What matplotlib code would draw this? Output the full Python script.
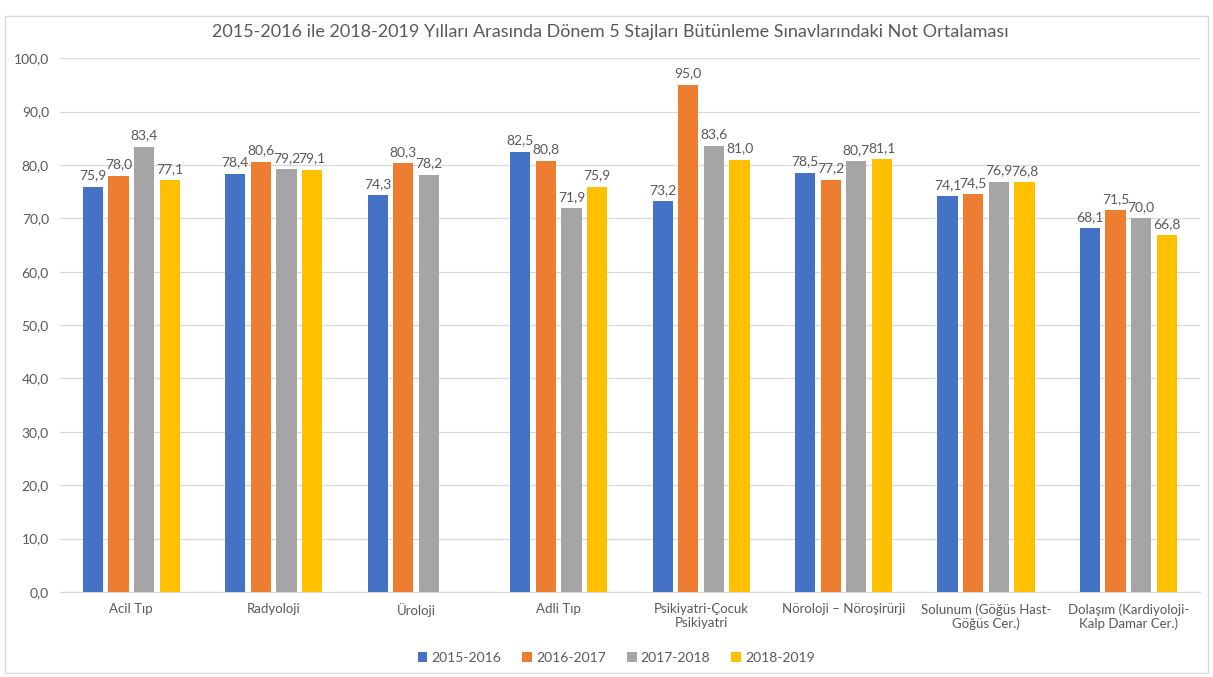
import numpy as np
import matplotlib
matplotlib.use("Agg")
import matplotlib.pyplot as plt

plt.rcParams['font.family'] = ['Lato', 'DejaVu Sans']

categories = ["Acil Tıp", "Radyoloji", "Üroloji", "Adli Tıp",
              "Psikiyatri-Çocuk\nPsikiyatri", "Nöroloji – Nöroşirürji",
              "Solunum (Göğüs Hast-\nGöğüs Cer.)", "Dolaşım (Kardiyoloji-\nKalp Damar Cer.)"]
series_names = ["2015-2016", "2016-2017", "2017-2018", "2018-2019"]
v_2015 = [75.9, 78.4, 74.3, 82.5, 73.2, 78.5, 74.1, 68.1]
v_2016 = [78.0, 80.6, 80.3, 80.8, 95.0, 77.2, 74.5, 71.5]
v_2017 = [83.4, 79.2, 78.2, 71.9, 83.6, 80.7, 76.9, 70.0]
v_2018 = [77.1, 79.1, np.nan, 75.9, 81.0, 81.1, 76.8, 66.8]
colors = ["#4472C4", "#ED7D31", "#A5A5A5", "#FFC000"]
yticks = np.arange(0, 101, 10)

txt = "#595959"
fig = plt.figure(figsize=(12.13, 6.77), dpi=100)
ax = fig.add_axes([0.0495, 0.1256, 0.9395, 0.7884])

x = np.arange(len(categories))
pitch = 0.18
width = 0.142
for i, (vals, name, c) in enumerate(zip([v_2015, v_2016, v_2017, v_2018], series_names, colors)):
    xs = x + (i - 1.5) * pitch
    ax.bar(xs, vals, width, color=c, label=name, zorder=3)
    for xx, v in zip(xs, vals):
        if np.isnan(v):
            continue
        ax.text(xx, v + 1.0, f"{v:.1f}".replace(".", ","), ha="center", va="bottom",
                fontsize=10, color=txt)

ax.set_xlim(-0.5, len(categories) - 0.5)
ax.set_ylim(0, 100)
ax.set_yticks(yticks)
ax.set_yticklabels([f"{t:.1f}".replace(".", ",") for t in yticks], fontsize=10, color=txt)
ax.set_xticks(x)
ax.set_xticklabels(categories, fontsize=9.5, color=txt)
ax.tick_params(length=0, pad=8)
ax.grid(axis="y", color="#D9D9D9", lw=0.9, zorder=0)
for s in ["top", "right", "left"]:
    ax.spines[s].set_visible(False)
ax.spines["bottom"].set_color("#D9D9D9")

fig.text(0.503, 0.952, "2015-2016 ile 2018-2019 Yılları Arasında Dönem 5 Stajları Bütünleme Sınavlarındaki Not Ortalaması",
         ha="center", va="center", fontsize=13, color=txt)

fig.legend(loc="center", bbox_to_anchor=(0.508, 0.028), ncol=4, frameon=False,
           fontsize=10, handlelength=0.7, handleheight=0.7, handletextpad=0.3,
           columnspacing=1.5, labelcolor=txt)

border = plt.Rectangle((0.004, 0.006), 0.992, 0.97, transform=fig.transFigure,
                       fill=False, edgecolor="#D9D9D9", lw=1)
fig.patches.append(border)

fig.savefig("out.png", dpi=100)
